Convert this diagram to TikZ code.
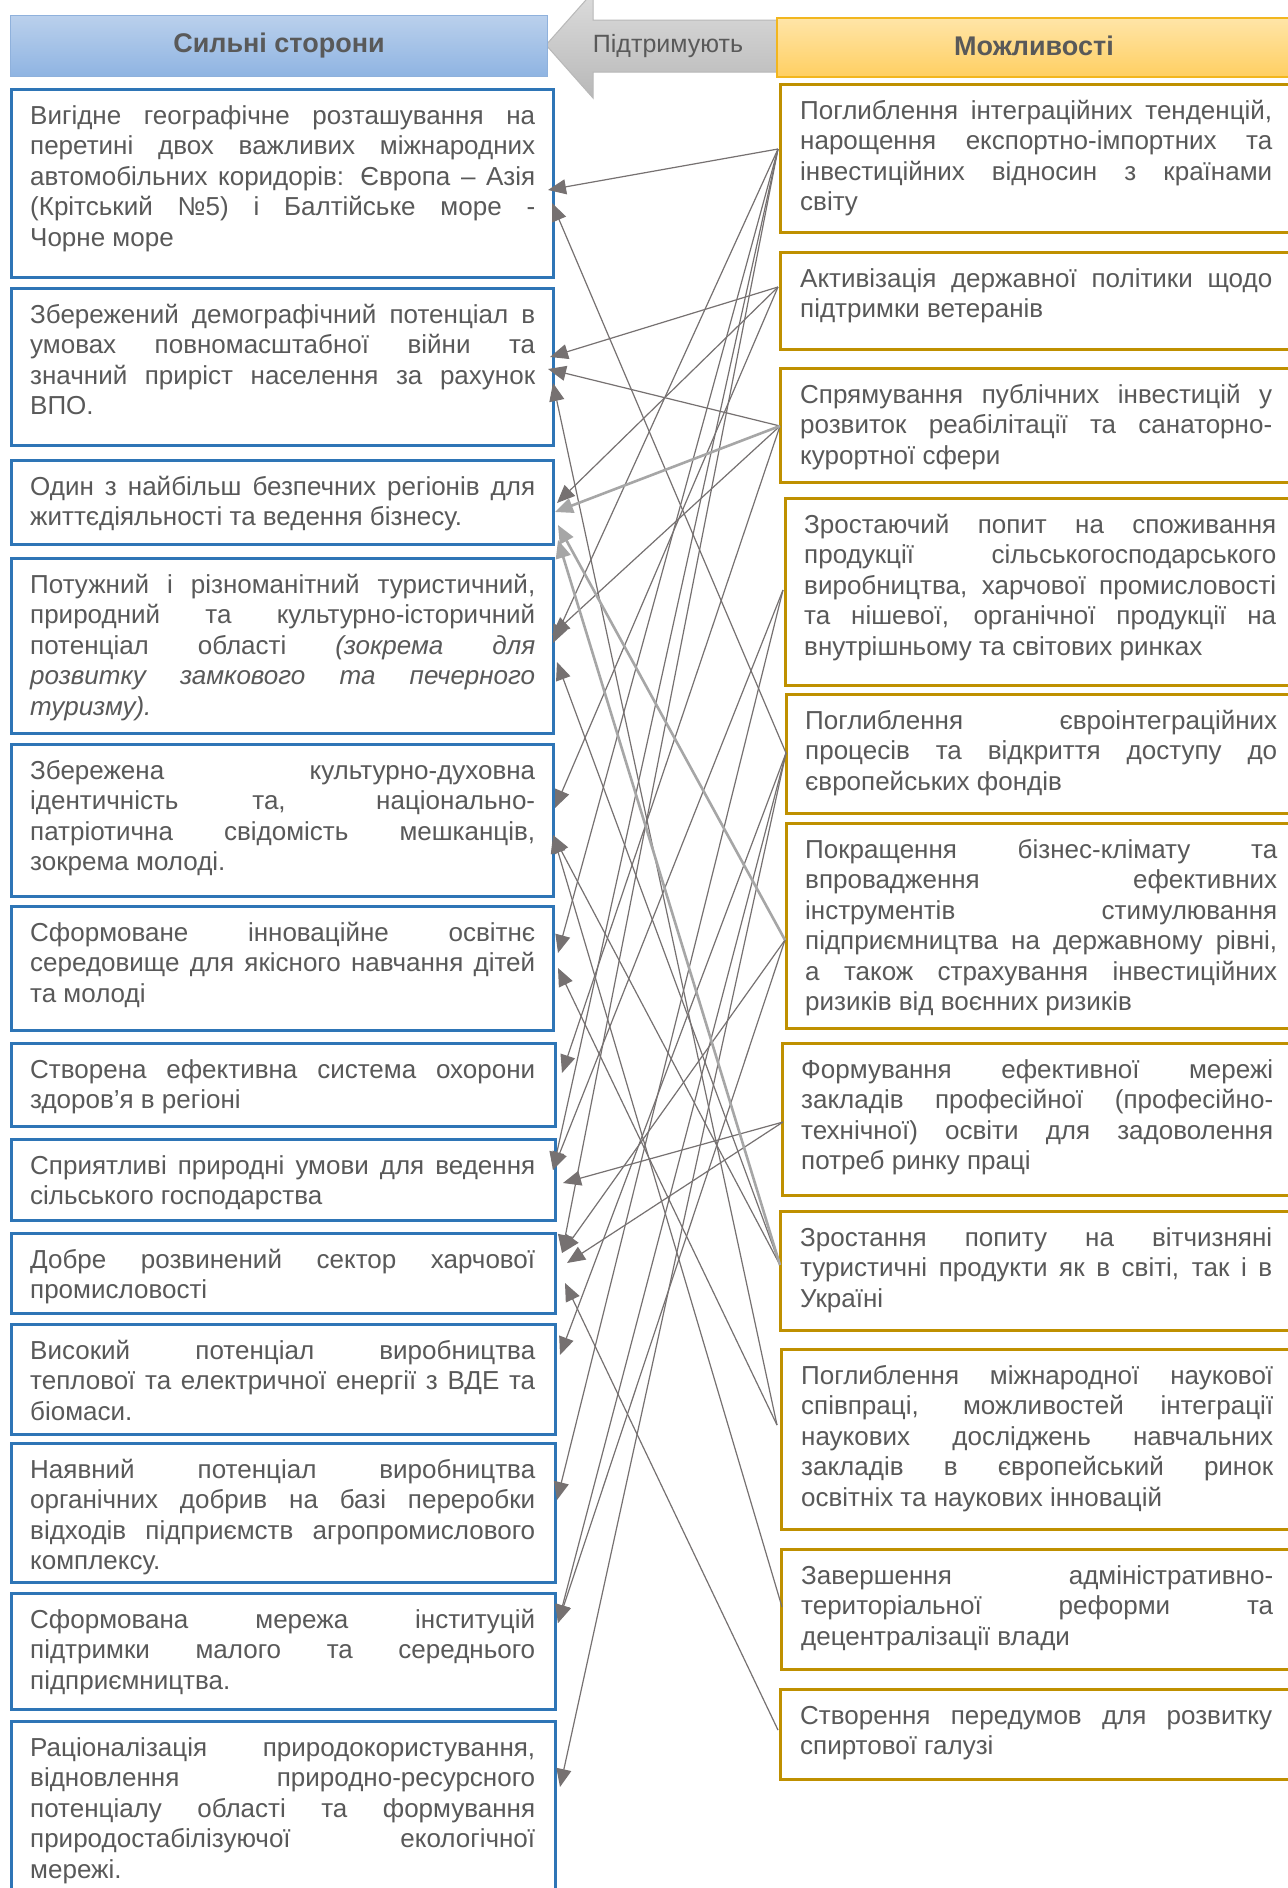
\documentclass[tikz,border=0pt]{standalone}
\usepackage{fontspec}
\setmainfont{Liberation Sans}
\usetikzlibrary{arrows.meta,calc}
\definecolor{txt}{HTML}{595959}
\definecolor{lblue}{HTML}{2E75B6}
\definecolor{gold}{HTML}{BF9000}
\definecolor{ln}{HTML}{767171}
\definecolor{lnlight}{HTML}{A6A6A6}
\definecolor{hbtop}{HTML}{BAD0EC}
\definecolor{hbbot}{HTML}{8FB4E2}
\definecolor{hbdraw}{HTML}{8FB1DC}
\definecolor{hotop}{HTML}{FFE5A8}
\definecolor{hobot}{HTML}{FFCF62}
\definecolor{hodraw}{HTML}{F2B61E}
\definecolor{artop}{HTML}{DCDCDC}
\definecolor{arbot}{HTML}{B8B8B8}
\hyphenpenalty=10000
\exhyphenpenalty=10000
\begin{document}
\begin{tikzpicture}[x=1pt,y=-1pt,
  lbox/.style={draw=lblue,line width=2.6pt,fill=white,rectangle,inner sep=0pt,anchor=north west},
  rbox/.style={draw=gold,line width=2.6pt,fill=white,rectangle,inner sep=0pt,anchor=north west},
  btext/.style={anchor=north west,inner sep=0pt,text=txt,font=\fontsize{26}{30.5}\selectfont,align=justify},
  ltext/.style={btext,text width=505pt},
  rtext/.style={btext,text width=472pt},
  conn/.style={draw=ln,line width=1.2pt,-{Triangle[length=18pt,width=15pt]}},
  connl/.style={draw=lnlight,line width=2.6pt,-{Triangle[length=18pt,width=15pt]}},
]
\useasboundingbox (0,0) rectangle (1288,1888);
\clip (0,0) rectangle (1288,1888);
\fill[white] (0,0) rectangle (1288,1888);

% header
\shade[top color=artop,bottom color=arbot,draw=arbot,line width=1pt]
  (546,45) -- (593,-8) -- (593,20) -- (790,20) -- (790,72) -- (593,72) -- (593,98) -- cycle;
\node[text=txt,font=\fontsize{25}{30}\selectfont] (sup) at (668,46) {Підтримують};
\node[draw=hbdraw,line width=1pt,top color=hbtop,bottom color=hbbot,
  minimum width=537pt,minimum height=61pt,anchor=north west,inner sep=0pt,
  text=txt,font=\bfseries\fontsize{27}{32}\selectfont] (hs) at (10,15) {Сильні сторони};
\node[draw=hodraw,line width=1.6pt,top color=hotop,bottom color=hobot,
  minimum width=524pt,minimum height=59pt,anchor=north west,inner sep=0pt] (ho) at (776,17) {};
\node[text=txt,font=\bfseries\fontsize{27}{32}\selectfont] (hot) at (1034,46) {Можливості};

% left boxes
\node[lbox,minimum width=542pt,minimum height=188pt] (lb1) at (10,88) {};
\node[lbox,minimum width=542pt,minimum height=157pt] (lb2) at (10,287) {};
\node[lbox,minimum width=542pt,minimum height=84pt] (lb3) at (10,459) {};
\node[lbox,minimum width=542pt,minimum height=175pt] (lb4) at (10,557) {};
\node[lbox,minimum width=542pt,minimum height=152pt] (lb5) at (10,743) {};
\node[lbox,minimum width=542pt,minimum height=124pt] (lb6) at (10,905) {};
\node[lbox,minimum width=544pt,minimum height=83pt] (lb7) at (10,1042) {};
\node[lbox,minimum width=544pt,minimum height=81pt] (lb8) at (10,1138) {};
\node[lbox,minimum width=544pt,minimum height=80pt] (lb9) at (10,1232) {};
\node[lbox,minimum width=544pt,minimum height=110pt] (lb10) at (10,1323) {};
\node[lbox,minimum width=544pt,minimum height=139pt] (lb11) at (10,1442) {};
\node[lbox,minimum width=544pt,minimum height=116pt] (lb12) at (10,1592) {};
\node[lbox,minimum width=544pt,minimum height=190pt] (lb13) at (10,1720) {};

\node[ltext] (lt1) at ($(lb1.north west)+(20,16)$) {\noindent\rule{0pt}{20pt}Вигідне географічне розташування на\linebreak перетині двох важливих міжнародних\linebreak автомобільних коридорів: Європа – Азія\linebreak (Крітський №5) і Балтійське море -\linebreak Чорне море};
\node[ltext] (lt2) at ($(lb2.north west)+(20,16)$) {\noindent\rule{0pt}{20pt}Збережений демографічний потенціал в\linebreak умовах повномасштабної війни та\linebreak значний приріст населення за рахунок\linebreak ВПО.};
\node[ltext] (lt3) at ($(lb3.north west)+(20,16)$) {\noindent\rule{0pt}{20pt}Один з найбільш безпечних регіонів для\linebreak життєдіяльності та ведення бізнесу.};
\node[ltext] (lt4) at ($(lb4.north west)+(20,16)$) {\noindent\rule{0pt}{20pt}Потужний і різноманітний туристичний,\linebreak природний та культурно-історичний\linebreak потенціал області \textit{(зокрема для\linebreak розвитку замкового та печерного\linebreak туризму).}};
\node[ltext] (lt5) at ($(lb5.north west)+(20,16)$) {\noindent\rule{0pt}{20pt}Збережена культурно-духовна\linebreak ідентичність та, національно-\linebreak{}патріотична свідомість мешканців,\linebreak зокрема молоді.};
\node[ltext] (lt6) at ($(lb6.north west)+(20,16)$) {\noindent\rule{0pt}{20pt}Сформоване інноваційне освітнє\linebreak середовище для якісного навчання дітей\linebreak та молоді};
\node[ltext] (lt7) at ($(lb7.north west)+(20,16)$) {\noindent\rule{0pt}{20pt}Створена ефективна система охорони\linebreak здоров’я в регіоні};
\node[ltext] (lt8) at ($(lb8.north west)+(20,16)$) {\noindent\rule{0pt}{20pt}Сприятливі природні умови для ведення\linebreak сільського господарства};
\node[ltext] (lt9) at ($(lb9.north west)+(20,16)$) {\noindent\rule{0pt}{20pt}Добре розвинений сектор харчової\linebreak промисловості};
\node[ltext] (lt10) at ($(lb10.north west)+(20,16)$) {\noindent\rule{0pt}{20pt}Високий потенціал виробництва\linebreak теплової та електричної енергії з ВДЕ та\linebreak біомаси.};
\node[ltext] (lt11) at ($(lb11.north west)+(20,16)$) {\noindent\rule{0pt}{20pt}Наявний потенціал виробництва\linebreak органічних добрив на базі переробки\linebreak відходів підприємств агропромислового\linebreak комплексу.};
\node[ltext] (lt12) at ($(lb12.north west)+(20,16)$) {\noindent\rule{0pt}{20pt}Сформована мережа інституцій\linebreak підтримки малого та середнього\linebreak підприємництва.};
\node[ltext] (lt13) at ($(lb13.north west)+(20,16)$) {\noindent\rule{0pt}{20pt}Раціоналізація природокористування,\linebreak відновлення природно-ресурсного\linebreak потенціалу області та формування\linebreak природостабілізуючої екологічної\linebreak мережі.};

% right boxes
\node[rbox,minimum width=521pt,minimum height=148pt] (rb1) at (779,83) {};
\node[rbox,minimum width=521pt,minimum height=97pt] (rb2) at (779,251) {};
\node[rbox,minimum width=521pt,minimum height=114pt] (rb3) at (779,367) {};
\node[rbox,minimum width=516pt,minimum height=187pt] (rb4) at (784,497) {};
\node[rbox,minimum width=515pt,minimum height=119pt] (rb5) at (785,693) {};
\node[rbox,minimum width=515pt,minimum height=205pt] (rb6) at (785,822) {};
\node[rbox,minimum width=519pt,minimum height=152pt] (rb7) at (781,1042) {};
\node[rbox,minimum width=521pt,minimum height=119pt] (rb8) at (779,1210) {};
\node[rbox,minimum width=520pt,minimum height=180pt] (rb9) at (780,1348) {};
\node[rbox,minimum width=520pt,minimum height=120pt] (rb10) at (780,1548) {};
\node[rbox,minimum width=521pt,minimum height=90pt] (rb11) at (779,1688) {};

\node[rtext] (rt1) at ($(rb1.north west)+(21,16)$) {\noindent\rule{0pt}{20pt}Поглиблення інтеграційних тенденцій,\linebreak нарощення експортно-імпортних та\linebreak інвестиційних відносин з країнами\linebreak світу};
\node[rtext] (rt2) at ($(rb2.north west)+(21,16)$) {\noindent\rule{0pt}{20pt}Активізація державної політики щодо\linebreak підтримки ветеранів};
\node[rtext] (rt3) at ($(rb3.north west)+(21,16)$) {\noindent\rule{0pt}{20pt}Спрямування публічних інвестицій у\linebreak розвиток реабілітації та санаторно-\linebreak{}курортної сфери};
\node[rtext] (rt4) at ($(rb4.north west)+(20,16)$) {\noindent\rule{0pt}{20pt}Зростаючий попит на споживання\linebreak продукції сільськогосподарського\linebreak виробництва, харчової промисловості\linebreak та нішевої, органічної продукції на\linebreak внутрішньому та світових ринках};
\node[rtext] (rt5) at ($(rb5.north west)+(20,16)$) {\noindent\rule{0pt}{20pt}Поглиблення євроінтеграційних\linebreak процесів та відкриття доступу до\linebreak європейських фондів};
\node[rtext] (rt6) at ($(rb6.north west)+(20,16)$) {\noindent\rule{0pt}{20pt}Покращення бізнес-клімату та\linebreak впровадження ефективних\linebreak інструментів стимулювання\linebreak підприємництва на державному рівні,\linebreak а також страхування інвестиційних\linebreak ризиків від воєнних ризиків};
\node[rtext] (rt7) at ($(rb7.north west)+(20,16)$) {\noindent\rule{0pt}{20pt}Формування ефективної мережі\linebreak закладів професійної (професійно-\linebreak{}технічної) освіти для задоволення\linebreak потреб ринку праці};
\node[rtext] (rt8) at ($(rb8.north west)+(21,16)$) {\noindent\rule{0pt}{20pt}Зростання попиту на вітчизняні\linebreak туристичні продукти як в світі, так і в\linebreak Україні};
\node[rtext] (rt9) at ($(rb9.north west)+(21,16)$) {\noindent\rule{0pt}{20pt}Поглиблення міжнародної наукової\linebreak співпраці, можливостей інтеграції\linebreak наукових досліджень навчальних\linebreak закладів в європейський ринок\linebreak освітніх та наукових інновацій};
\node[rtext] (rt10) at ($(rb10.north west)+(21,16)$) {\noindent\rule{0pt}{20pt}Завершення адміністративно-\linebreak{}територіальної реформи та\linebreak децентралізації влади};
\node[rtext] (rt11) at ($(rb11.north west)+(21,16)$) {\noindent\rule{0pt}{20pt}Створення передумов для розвитку\linebreak спиртової галузі};

% start points
\coordinate (s1) at ($(rb1.north west)+(-1,66)$);
\coordinate (s2) at ($(rb2.north west)+(-1,36)$);
\coordinate (s3) at ($(rb3.north west)+(1,59)$);
\coordinate (s4) at ($(rb4.north west)+(-1,93)$);
\coordinate (s5) at ($(rb5.north west)+(1,60)$);
\coordinate (s6) at ($(rb6.north west)+(0,118)$);
\coordinate (s7) at ($(rb7.north west)+(2,80)$);
\coordinate (s8) at ($(rb8.north west)+(1,55)$);
\coordinate (s9) at ($(rb9.north west)+(-3,77)$);
\coordinate (s10) at ($(rb10.north west)+(2,59)$);
\coordinate (s11) at ($(rb11.north west)+(-1,42)$);
% tips
\coordinate (t1) at (548,190);
\coordinate (t2) at (552,203);
\coordinate (t3) at (550,357);
\coordinate (t4) at (548,369);
\coordinate (t5) at (553,383);
\coordinate (t6) at (557,503);
\coordinate (t7) at (555,512);
\coordinate (t8) at (558,525);
\coordinate (t9) at (558,540);
\coordinate (t10) at (552,635);
\coordinate (t11) at (553,643);
\coordinate (t12) at (557,662);
\coordinate (t13) at (555,808);
\coordinate (t14) at (553,835);
\coordinate (t15) at (558,953);
\coordinate (t16) at (558,968);
\coordinate (t17) at (562,1073);
\coordinate (t18) at (553,1170);
\coordinate (t19) at (563,1183);
\coordinate (t20) at (562,1253);
\coordinate (t21) at (567,1263);
\coordinate (t22) at (565,1283);
\coordinate (t23) at (560,1355);
\coordinate (t24) at (557,1500);
\coordinate (t25) at (558,1623);
\coordinate (t27) at (560,1787);

% connectors
\draw[conn] (s1) -- (t1);
\draw[conn] (s1) -- (t11);
\draw[conn] (s1) -- (t15);
\draw[conn] (s1) -- (t18);
\draw[conn] (s1) -- (t20);
\draw[conn] (s2) -- (t3);
\draw[conn] (s2) -- (t6);
\draw[conn] (s2) -- (t13);
\draw[conn] (s3) -- (t4);
\draw[conn] (s3) -- (t10);
\draw[conn] (s3) -- (t17);
\draw[conn] (s4) -- (t18);
\draw[conn] (s4) -- (t24);
\draw[conn] (s5) -- (t2);
\draw[conn] (s5) -- (t23);
\draw[conn] (s5) -- (t25);
\draw[conn] (s5) -- (t27);
\draw[conn] (s6) -- (t20);
\draw[conn] (s6) -- (t25);
\draw[conn] (s7) -- (t19);
\draw[conn] (s7) -- (t21);
\draw[conn] (s8) -- (t12);
\draw[conn] (s8) -- (t14);
\draw[conn] (s9) -- (t5);
\draw[conn] (s9) -- (t16);
\draw[conn] (s10) -- (t14);
\draw[conn] (s11) -- (t22);
\draw[connl] (s3) -- (t7);
\draw[connl] (s6) -- (t8);
\draw[connl] (s8) -- (t9);
\end{tikzpicture}
\end{document}
